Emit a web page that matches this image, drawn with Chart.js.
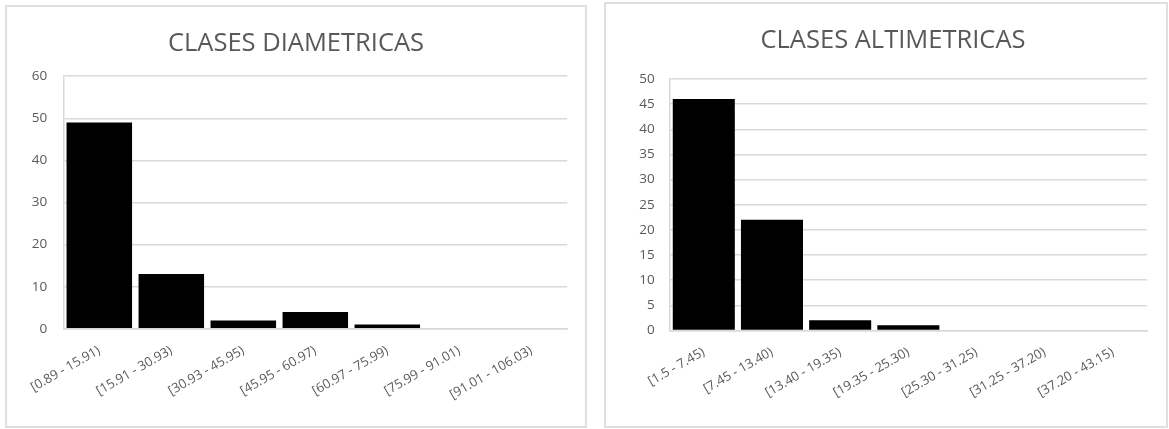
<!DOCTYPE html>
<html>
<head>
<meta charset="utf-8">
<script src="https://cdn.jsdelivr.net/npm/chart.js@4.4.1/dist/chart.umd.min.js"></script>
<style>
  html, body { margin: 0; padding: 0; background: #ffffff; width: 1169px; height: 429px; overflow: hidden; }
  .box { position: absolute; box-sizing: border-box; border: 2px solid #e0e0e0; background: #fff; }
  #boxL { left: 5px; top: 5px; width: 582px; height: 423px; }
  #boxR { left: 604px; top: 2px; width: 564px; height: 426px; }
  canvas { display: block; }
</style>
</head>
<body>
<div class="box" id="boxL"><canvas id="cL" width="578" height="419" style="width:578px;height:419px"></canvas></div>
<div class="box" id="boxR"><canvas id="cR" width="560" height="422" style="width:560px;height:422px"></canvas></div>
<script>
// ---- Data ----
const diamTitle = 'CLASES DIAMETRICAS';
const diamCategories = ['[0.89 - 15.91)', '[15.91 - 30.93)', '[30.93 - 45.95)', '[45.95 - 60.97)', '[60.97 - 75.99)', '[75.99 - 91.01)', '[91.01 - 106.03)'];
const diamCounts = [49, 13, 2, 4, 1, 0, 0];
const diamMax = 60;
const diamStep = 10;

const altTitle = 'CLASES ALTIMETRICAS';
const altCategories = ['[1.5 - 7.45)', '[7.45 - 13.40)', '[13.40 - 19.35)', '[19.35 - 25.30)', '[25.30 - 31.25)', '[31.25 - 37.20)', '[37.20 - 43.15)'];
const altCounts = [46, 22, 2, 1, 0, 0, 0];
const altMax = 50;
const altStep = 5;

Chart.defaults.font.family = "'Open Sans', 'Noto Sans', sans-serif";
Chart.defaults.color = '#595959';

function makeChart(id, title, cats, vals, yMax, yStep, geo) {
  return new Chart(document.getElementById(id), {
    type: 'bar',
    data: {
      labels: cats,
      datasets: [{
        data: vals,
        backgroundColor: '#000000',
        borderWidth: 0,
        barPercentage: 0.91,
        categoryPercentage: 1.0
      }]
    },
    options: {
      responsive: false,
      animation: false,
      layout: { padding: { left: geo.padLeft, right: geo.padRight, top: 0, bottom: 0 } },
      plugins: {
        legend: { display: false },
        tooltip: { enabled: false },
        title: {
          display: true,
          text: title,
          color: '#595959',
          font: { size: 25.5, weight: 'normal' },
          padding: { top: geo.titleTop, bottom: geo.titleBottom }
        }
      },
      scales: {
        x: {
          grid: { display: false, drawTicks: false },
          border: { display: true, color: '#d9d9d9', width: 1.5 },
          ticks: {
            autoSkip: false,
            minRotation: 30,
            maxRotation: 30,
            padding: geo.xPad,
            color: '#595959',
            font: { size: 13 }
          },
          afterFit: (s) => { s.height = geo.xHeight; }
        },
        y: {
          min: 0,
          max: yMax,
          grid: { color: '#d9d9d9', lineWidth: 1.5, drawTicks: false },
          border: { display: true, color: '#d9d9d9', width: 1.5 },
          ticks: {
            stepSize: yStep,
            padding: geo.yPad,
            color: '#595959',
            font: { size: 13.5 }
          },
          afterFit: (s) => { s.width = geo.yWidth; }
        }
      }
    }
  });
}

makeChart('cL', diamTitle, diamCategories, diamCounts, diamMax, diamStep, {
  padLeft: 17.7, padRight: 17.7, titleTop: 21, titleBottom: 17.6, xHeight: 97.2, yWidth: 38.6, yPad: 16, xPad: 14
});
makeChart('cR', altTitle, altCategories, altCounts, altMax, altStep, {
  padLeft: 33, padRight: 19, titleTop: 21, titleBottom: 23.4, xHeight: 95.6, yWidth: 30.7, yPad: 15, xPad: 14
});
</script>
</body>
</html>
